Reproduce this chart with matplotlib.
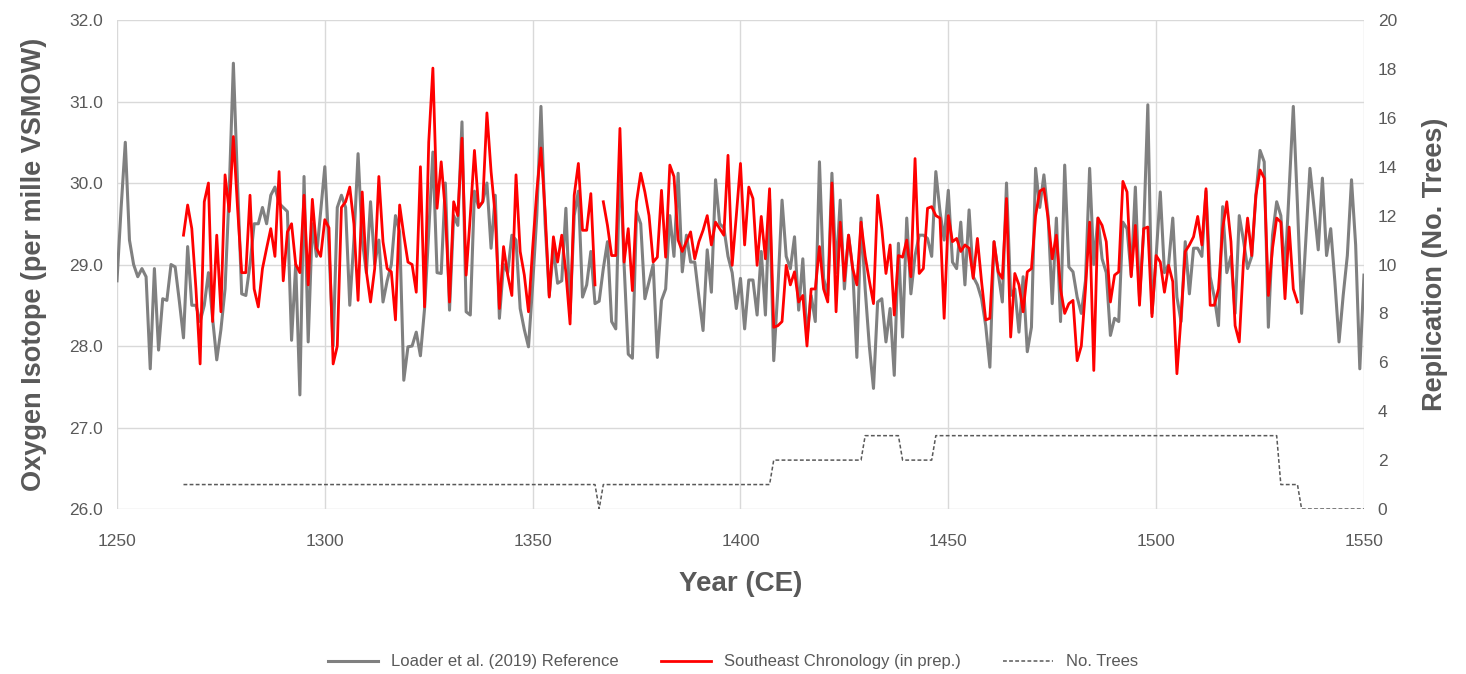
import numpy as np
import matplotlib
matplotlib.use("Agg")
import matplotlib.pyplot as plt

plt.rcParams['font.family'] = ['Liberation Sans', 'DejaVu Sans']

# reference series (Loader et al. 2019), one value per year 1250-1550
ref_start = 1250
ref_vals = [
    28.8, 29.7, 30.5, 29.3, 29.0, 28.85, 28.95, 28.85, 27.72, 28.95,   # 1250
    27.95, 28.58, 28.56, 29.0, 28.97, 28.55, 28.1, 29.22, 28.5, 28.5,  # 1260
    28.3, 28.5, 28.9, 28.34, 27.83, 28.2, 28.7, 29.9, 31.47, 30.0,     # 1270
    28.64, 28.62, 29.0, 29.5, 29.5, 29.7, 29.5, 29.85, 29.95, 29.75,   # 1280
    29.7, 29.65, 28.07, 29.0, 27.4, 30.08, 28.05, 29.5, 29.1, 29.65,   # 1290
    30.2, 29.2, 28.0, 29.7, 29.85, 29.7, 28.5, 29.3, 30.36, 29.3,      # 1300
    28.9, 29.77, 29.0, 29.3, 28.54, 28.8, 29.0, 29.6, 29.4, 27.58,     # 1310
    27.99, 28.0, 28.17, 27.88, 28.46, 29.4, 30.38, 28.9, 28.89, 30.0,  # 1320
    28.44, 29.6, 29.48, 30.75, 28.42, 28.38, 29.9, 29.7, 29.77, 30.0,  # 1330
    29.2, 29.85, 28.34, 29.0, 28.9, 29.36, 29.3, 28.46, 28.2, 27.99,   # 1340
    28.75, 29.6, 30.94, 29.5, 28.62, 29.2, 28.77, 28.8, 29.69, 28.4,   # 1350
    29.6, 29.9, 28.6, 28.75, 29.16, 28.52, 28.55, 28.95, 29.28, 28.3,  # 1360
    28.21, 30.3, 29.0, 27.9, 27.85, 29.65, 29.5, 28.58, 28.79, 29.0,   # 1370
    27.86, 28.56, 28.7, 29.6, 29.1, 30.12, 28.91, 29.36, 29.03, 29.03, # 1380
    28.6, 28.19, 29.18, 28.66, 30.04, 29.5, 29.45, 29.1, 28.9, 28.46,  # 1390
    28.83, 28.21, 28.81, 28.81, 28.38, 29.16, 28.38, 29.8, 27.82, 28.7,  # 1400
    29.79, 29.1, 28.95, 29.34, 28.44, 29.07, 28.1, 28.62, 28.3, 30.26,   # 1410
    28.83, 28.62, 30.12, 28.9, 29.79, 28.7, 29.36, 28.95, 27.86, 29.57,  # 1420
    28.7, 28.0, 27.48, 28.54, 28.58, 28.05, 28.46, 27.64, 29.26, 28.11,  # 1430
    29.57, 28.64, 29.11, 29.36, 29.36, 29.32, 29.1, 30.14, 29.65, 29.3,  # 1440
    29.91, 29.03, 28.95, 29.52, 28.75, 29.67, 28.85, 28.75, 28.58, 28.25,  # 1450
    27.74, 29.28, 28.9, 28.54, 30.0, 28.62, 28.7, 28.17, 28.85, 27.93,     # 1460
    28.23, 30.18, 29.7, 30.1, 29.6, 28.52, 29.57, 28.3, 30.22, 28.97,      # 1470
    28.91, 28.6, 28.4, 28.8, 30.18, 29.0, 29.57, 29.07, 28.9, 28.13,       # 1480
    28.34, 28.3, 29.52, 29.44, 28.87, 29.95, 28.6, 29.4, 30.96, 28.4,      # 1490
    29.1, 29.89, 28.9, 29.0, 29.57, 28.6, 28.3, 29.28, 28.64, 29.2,        # 1500
    29.2, 29.1, 29.9, 28.85, 28.6, 28.25, 29.71, 28.9, 29.1, 28.4,         # 1510
    29.6, 29.3, 28.95, 29.1, 29.85, 30.4, 30.26, 28.23, 29.36, 29.77,      # 1520
    29.6, 28.9, 29.93, 30.94, 29.73, 28.4, 29.28, 30.18, 29.69, 29.18,     # 1530
    30.06, 29.11, 29.44, 28.79, 28.05, 28.62, 29.11, 30.04, 29.24, 27.72,  # 1540
    28.87,                                                                 # 1550
]

# southeast chronology, one value per year 1266-1534 (no sample in 1366)
se_start = 1266
se_vals = [
    29.36, 29.73, 29.44, 28.7,                                           # 1266
    27.78, 29.77, 30.0, 28.3, 29.36, 28.42, 30.1, 29.65, 30.57, 29.7,    # 1270
    28.9, 28.9, 29.85, 28.7, 28.48, 28.95, 29.2, 29.44, 29.1, 30.14,     # 1280
    28.8, 29.4, 29.5, 29.0, 28.9, 29.85, 28.75, 29.8, 29.2, 29.1,        # 1290
    29.55, 29.45, 27.78, 28.0, 29.7, 29.77, 29.95, 29.5, 28.56, 29.89,   # 1300
    28.91, 28.54, 28.95, 30.08, 29.28, 28.95, 28.91, 28.32, 29.73, 29.36,  # 1310
    29.03, 29.0, 28.66, 30.2, 28.48, 30.5, 31.41, 29.69, 30.26, 29.65,     # 1320
    28.54, 29.77, 29.6, 30.55, 28.87, 29.6, 30.4, 29.7, 29.77, 30.86,      # 1330
    30.14, 29.6, 28.46, 29.22, 28.87, 28.62, 30.1, 29.16, 28.87, 28.42,    # 1340
    29.2, 29.9, 30.43, 29.65, 28.6, 29.34, 29.03, 29.36, 28.9, 28.27,      # 1350
    29.85, 30.24, 29.42, 29.42, 29.87, 28.75, np.nan, 29.77, 29.48, 29.11, # 1360
    29.11, 30.67, 29.03, 29.44, 28.68, 29.77, 30.12, 29.89, 29.6, 29.03,   # 1370
    29.09, 29.91, 29.09, 30.22, 30.08, 29.3, 29.16, 29.28, 29.4, 29.07,    # 1380
    29.28, 29.42, 29.6, 29.24, 29.52, 29.44, 29.36, 30.34, 28.99, 29.6,    # 1390
    30.24, 29.24, 29.95, 29.81, 28.99, 29.59, 29.07, 29.93, 28.23, 28.25,  # 1400
    28.3, 28.99, 28.75, 28.91, 28.54, 28.62, 28.0, 28.7, 28.7, 29.22,      # 1410
    28.7, 28.54, 30.0, 28.42, 29.52, 28.8, 29.36, 28.95, 28.75, 29.52,     # 1420
    29.1, 28.8, 28.52, 29.85, 29.44, 28.89, 29.24, 28.38, 29.11, 29.09,    # 1430
    29.3, 28.85, 30.3, 28.89, 28.95, 29.69, 29.71, 29.6, 29.57, 28.34,     # 1440
    29.6, 29.28, 29.32, 29.16, 29.24, 29.2, 28.83, 29.32, 28.79, 28.32,    # 1450
    28.34, 29.28, 28.91, 28.83, 29.81, 28.11, 28.89, 28.75, 28.42, 28.91,  # 1460
    28.95, 29.6, 29.9, 29.93, 29.57, 29.07, 29.36, 28.7, 28.4, 28.52,      # 1470
    28.56, 27.82, 28.0, 28.7, 29.52, 27.7, 29.57, 29.48, 29.28, 28.54,     # 1480
    28.87, 28.91, 30.02, 29.89, 28.85, 29.48, 28.5, 29.44, 29.46, 28.36,   # 1490
    29.11, 29.03, 28.66, 28.99, 28.79, 27.66, 28.36, 29.16, 29.24, 29.34,  # 1500
    29.59, 29.24, 29.93, 28.5, 28.5, 28.7, 29.44, 29.77, 29.28, 28.25,     # 1510
    28.05, 29.03, 29.57, 29.11, 29.85, 30.16, 30.06, 28.62, 29.2, 29.57,   # 1520
    29.52, 28.58, 29.46, 28.7, 28.54,                                      # 1530
]

# number of trees: (first year of run, count), runs last until the next entry
tree_runs = [(1266, 1), (1366, 0), (1367, 1), (1408, 2), (1430, 3),
             (1439, 2), (1447, 3), (1530, 1), (1535, 0)]
tree_end = 1550

ref_years = np.arange(ref_start, ref_start + len(ref_vals))
se_years = np.arange(se_start, se_start + len(se_vals))
tree_years = np.arange(tree_runs[0][0], tree_end + 1)
tree_counts = np.zeros(len(tree_years))
for start, n in tree_runs:
    tree_counts[tree_years >= start] = n

txt = '#595959'
fig = plt.figure(figsize=(14.66, 6.74), dpi=100)
ax = fig.add_axes([0.0798, 0.2448, 0.8506, 0.7255])
ax2 = ax.twinx()

l1, = ax.plot(ref_years, ref_vals, color='#808080', lw=2.2, zorder=2,
              label='Loader et al. (2019) Reference')
l2, = ax.plot(se_years, se_vals, color='#ff0000', lw=2.0, zorder=3,
              label='Southeast Chronology (in prep.)')
l3, = ax2.plot(tree_years, tree_counts, color='#595959', lw=1.1,
               dashes=(2.5, 1.5), label='No. Trees')

ax.set_xlim(1250, 1550)
ax.set_ylim(26, 32)
ax.set_yticks(np.arange(26, 32.1, 1))
ax.set_yticklabels(['%.1f' % v for v in np.arange(26, 32.1, 1)])
ax.set_xticks(np.arange(1250, 1551, 50))
ax2.set_ylim(0, 20)
ax2.set_yticks(np.arange(0, 21, 2))

ax.grid(True, color='#d9d9d9', lw=1.0)
ax.set_axisbelow(True)
for a in (ax, ax2):
    for s in a.spines.values():
        s.set_visible(False)
    a.tick_params(length=0, colors=txt, labelsize=12.5)
ax.tick_params(axis='x', pad=18)
ax.tick_params(axis='y', pad=10)
ax2.tick_params(axis='y', pad=10)

ax.set_xlabel('Year (CE)', fontsize=20, fontweight='bold', color=txt, labelpad=16)
ax.set_ylabel('Oxygen Isotope (per mille VSMOW)', fontsize=19.5, fontweight='bold',
              color=txt, labelpad=16)
ax2.set_ylabel('Replication (No. Trees)', fontsize=19.5, fontweight='bold',
               color=txt, labelpad=18)

fig.legend(handles=[l1, l2, l3], loc='center', bbox_to_anchor=(0.5, 0.018),
           ncol=3, frameon=False, fontsize=12, labelcolor=txt,
           handlelength=3, columnspacing=2.5)

fig.savefig('out.png', dpi=100)
